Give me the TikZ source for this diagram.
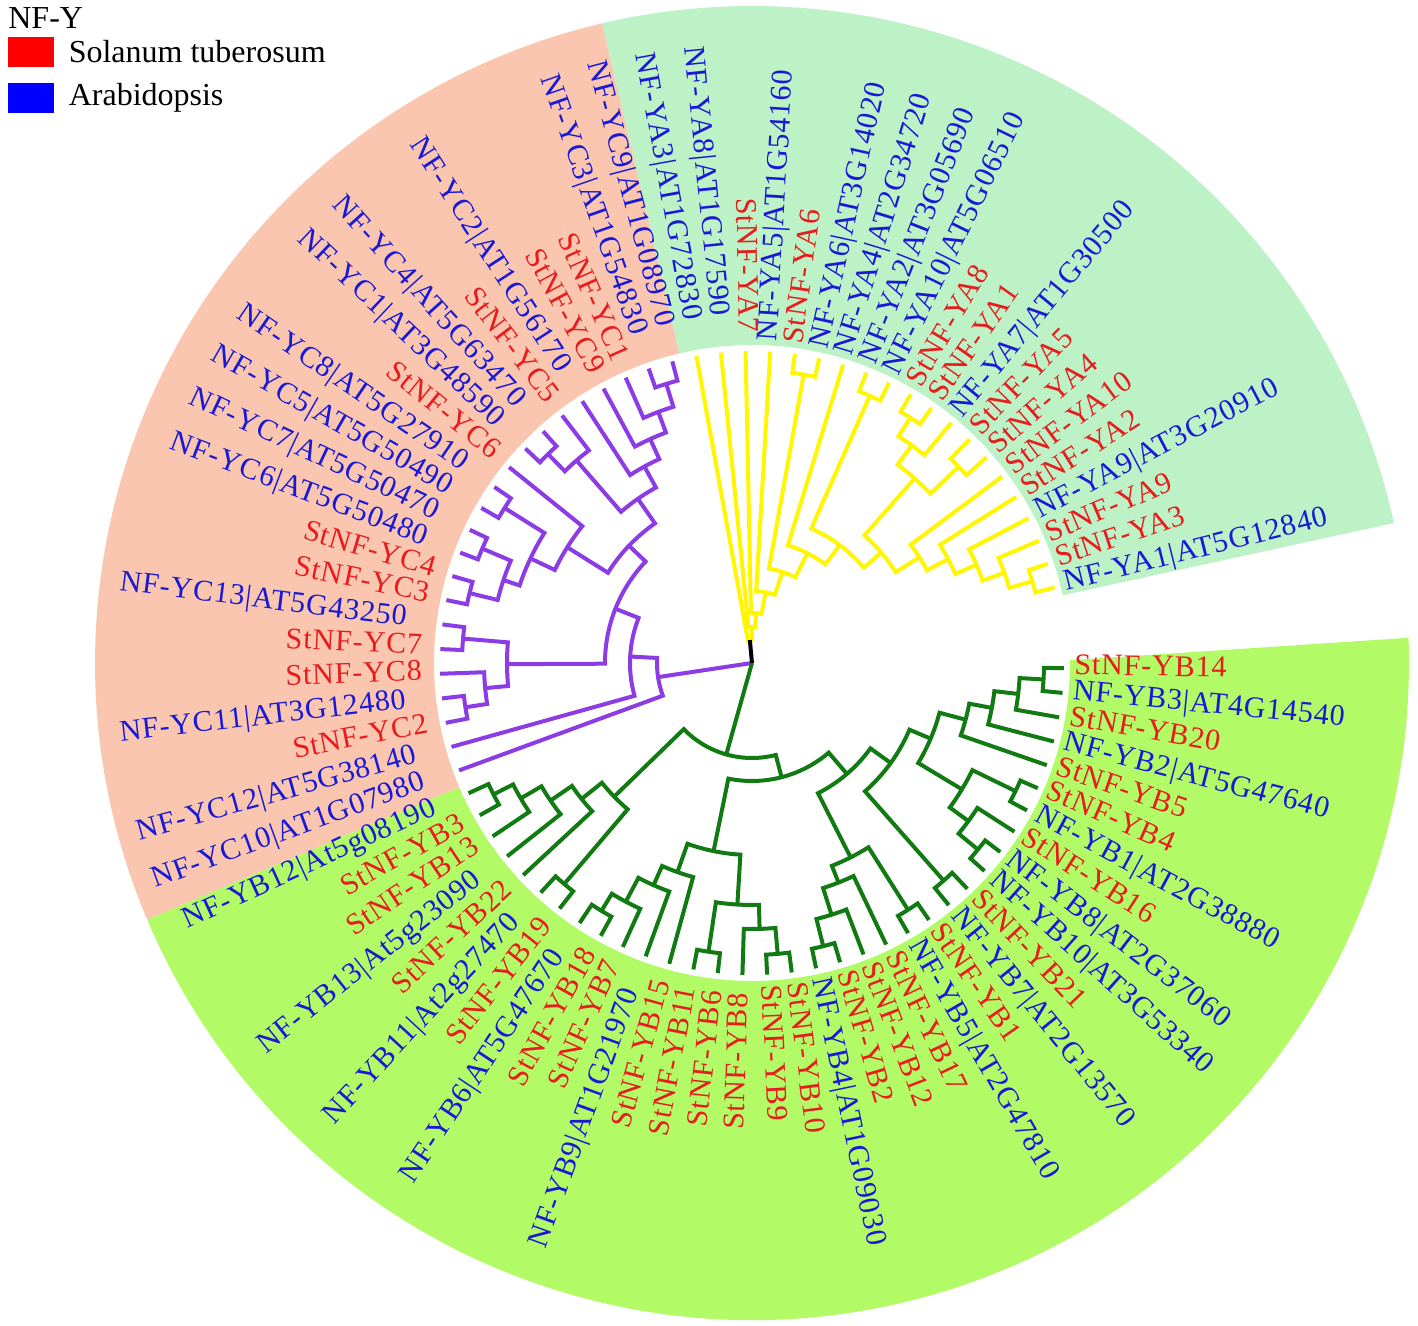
\documentclass[tikz,border=0pt]{standalone}
\usepackage{fontspec}
\setmainfont{Liberation Serif}
\newfontfamily\leaffont[LetterSpace=3]{Liberation Serif}
\usetikzlibrary{positioning}
\definecolor{stred}{RGB}{232,28,28}
\definecolor{atblue}{RGB}{24,24,214}
\definecolor{yaback}{RGB}{188,242,198}
\definecolor{ycback}{RGB}{250,198,176}
\definecolor{ybback}{RGB}{178,251,102}
\definecolor{yaline}{RGB}{255,246,0}
\definecolor{ycline}{RGB}{140,60,228}
\definecolor{ybline}{RGB}{18,122,18}
\def\stname{st}
\begin{document}
\begin{tikzpicture}[x=0.5pt, y=0.5pt,
  branch/.style = {line width=2pt},
  st/.style = {text=stred},
  ab/.style = {text=atblue},
  lbl/.style = {inner sep=0pt, text height=1.55ex, text depth=0.25ex,
    font=\leaffont\fontsize{15}{18}\selectfont},
  key/.style = {inner sep=0pt, font=\fontsize{16}{19}\selectfont},
  keybox/.style = {inner sep=0pt, minimum width=23pt, minimum height=15pt}]
\useasboundingbox (-752,-663) rectangle (666,663);

% shaded groups
\fill[yaback] (12.3:318) -- (12.3:657) arc[start angle=12.3, end angle=103.2, radius=657]
  -- (103.2:318) arc[start angle=103.2, end angle=12.3, radius=318] -- cycle;
\fill[ycback] (103.2:318) -- (103.2:657) arc[start angle=103.2, end angle=203, radius=657]
  -- (203:318) arc[start angle=203, end angle=103.2, radius=318] -- cycle;
\fill[ybback] (203:318) -- (203:657) arc[start angle=203, end angle=362.2, radius=657]
  -- (360.5:318) arc[start angle=360.5, end angle=203, radius=318] -- cycle;

% NF-YA clade
\foreach \a/\ra/\b/\rb/\r in {0/312/1/312/292, 2/312/0.5/292/268, 3/312/1.25/268/245,
    4/312/2.125/245/222, 5/312/3.063/222/198, 6/312/7/312/285, 9/312/10/312/292,
    8/312/9.5/292/270, 8.75/270/6.5/285/246, 7.625/246/4.031/198/170,
    11/312/12/312/292, 5.828/170/11.5/292/147, 13/312/8.664/147/123,
    14/312/15/312/293, 14.5/293/10.832/123/96, 16/312/12.666/96/72,
    17/312/14.333/72/50, 18/312/15.667/50/36, 19/312/16.833/36/23}{
  \pgfmathsetmacro\ta{14+4.54*\a}
  \pgfmathsetmacro\tb{14+4.54*\b}
  \draw[branch, yaline] (\ta:\ra) -- (\ta:\r) arc[start angle=\ta, end angle=\tb, radius=\r] -- (\tb:\rb);
}

% NF-YC clade
\foreach \a/\ra/\b/\rb/\r in {20/312/21/312/292, 22/312/20.5/292/268, 23/312/21.25/268/246,
    24/312/22.125/246/224, 26/312/27/312/292, 25/312/26.5/292/268,
    23.063/224/25.75/268/200, 29/312/30/312/292, 31/312/32/312/293,
    33/312/34/312/291, 31.5/293/33.5/291/262, 29.5/292/32.5/262/245,
    28/312/31/245/218, 24.406/200/29.5/218/170, 35/312/36/312/290,
    38/312/39/312/290, 37/312/38.5/290/268, 35.5/290/37.75/268/245,
    26.953/170/36.625/245/147, 31.789/147/40/312/122, 35.895/122/41/312/95}{
  \pgfmathsetmacro\ta{14+4.54*\a}
  \pgfmathsetmacro\tb{14+4.54*\b}
  \draw[branch, ycline] (\ta:\ra) -- (\ta:\r) arc[start angle=\ta, end angle=\tb, radius=\r] -- (\tb:\rb);
}

% NF-YB clade
\foreach \a/\ra/\b/\rb/\r in {42/312/43/312/290, 44/312/42.5/290/268, 45/312/43.25/268/244,
    46/312/44.125/244/218, 47/312/48/312/290, 45.063/218/47.5/290/192,
    49/312/50/312/290, 51/312/49.5/290/270, 52/312/50.25/270/243,
    53/312/51.125/243/222, 54/312/55/312/292, 57/312/58/312/292,
    56/312/57.5/292/266, 54.5/292/56.75/266/242, 52.063/222/55.625/242/192,
    59/312/60/312/292, 61/312/59.5/292/264, 60.25/264/62/312/236,
    63/312/64/312/292, 61.125/236/63.5/292/218, 65/312/66/312/290,
    67/312/68/312/293, 69/312/67.5/293/268, 70/312/71/312/293,
    70.5/293/68.25/268/245, 75/312/76/312/292, 74/312/75.5/292/268,
    73/312/74.75/268/244, 72/312/73.875/244/221, 69.375/245/72.938/221/194,
    65.5/290/71.156/194/171, 62.313/218/68.328/171/146,
    53.844/192/65.32/146/118, 46.281/192/59.582/118/95}{
  \pgfmathsetmacro\ta{14+4.54*\a}
  \pgfmathsetmacro\tb{14+4.54*\b}
  \draw[branch, ybline] (\ta:\ra) -- (\ta:\r) arc[start angle=\ta, end angle=\tb, radius=\r] -- (\tb:\rb);
}

% root
\coordinate (root) at (0,0);
\draw[branch, ycline] (root) -- ({14+4.54*38.447}:95);
\draw[branch, ybline] (root) -- ({14+4.54*52.93}:95);
\draw[branch, black] (root) -- ({14+4.54*17.917}:23);

% leaf labels (left half set a little further out, Arabidopsis names further still)
\foreach \i/\txt/\col in {0/NF-YA1|AT5G12840/ab, 1/StNF-YA3/st, 2/StNF-YA9/st,
    3/NF-YA9|AT3G20910/ab, 4/StNF-YA2/st, 5/StNF-YA10/st, 6/StNF-YA4/st, 7/StNF-YA5/st,
    8/NF-YA7|AT1G30500/ab, 9/StNF-YA1/st, 10/StNF-YA8/st, 11/NF-YA10|AT5G06510/ab,
    12/NF-YA2|AT3G05690/ab, 13/NF-YA4|AT2G34720/ab, 14/NF-YA6|AT3G14020/ab,
    15/StNF-YA6/st, 16/NF-YA5|AT1G54160/ab, 17/StNF-YA7/st, 18/NF-YA8|AT1G17590/ab,
    19/NF-YA3|AT1G72830/ab,
    20/NF-YC9|AT1G08970/ab, 21/NF-YC3|AT1G54830/ab, 22/StNF-YC1/st, 23/StNF-YC9/st,
    24/NF-YC2|AT1G56170/ab, 25/StNF-YC5/st, 26/NF-YC4|AT5G63470/ab,
    27/NF-YC1|AT3G48590/ab, 28/StNF-YC6/st, 29/NF-YC8|AT5G27910/ab,
    30/NF-YC5|AT5G50490/ab, 31/NF-YC7|AT5G50470/ab, 32/NF-YC6|AT5G50480/ab,
    33/StNF-YC4/st, 34/StNF-YC3/st, 35/NF-YC13|AT5G43250/ab, 36/StNF-YC7/st,
    37/StNF-YC8/st, 38/NF-YC11|AT3G12480/ab, 39/StNF-YC2/st,
    40/NF-YC12|AT5G38140/ab, 41/NF-YC10|AT1G07980/ab,
    42/NF-YB12|At5g08190/ab, 43/StNF-YB3/st, 44/StNF-YB13/st, 45/NF-YB13|At5g23090/ab,
    46/StNF-YB22/st, 47/NF-YB11|At2g27470/ab, 48/StNF-YB19/st, 49/NF-YB6|AT5G47670/ab,
    50/StNF-YB18/st, 51/StNF-YB7/st, 52/NF-YB9|AT1G21970/ab, 53/StNF-YB15/st,
    54/StNF-YB11/st, 55/StNF-YB6/st, 56/StNF-YB8/st, 57/StNF-YB9/st, 58/StNF-YB10/st,
    59/NF-YB4|AT1G09030/ab, 60/StNF-YB2/st, 61/StNF-YB12/st, 62/StNF-YB17/st,
    63/NF-YB5|AT2G47810/ab, 64/StNF-YB1/st, 65/NF-YB7|AT2G13570/ab, 66/StNF-YB21/st,
    67/NF-YB10|AT3G53340/ab, 68/NF-YB8|AT2G37060/ab, 69/StNF-YB16/st,
    70/NF-YB1|AT2G38880/ab, 71/StNF-YB4/st, 72/StNF-YB5/st, 73/NF-YB2|AT5G47640/ab,
    74/StNF-YB20/st, 75/NF-YB3|AT4G14540/ab, 76/StNF-YB14/st}{
  \pgfmathsetmacro\ang{14+4.54*\i}
  \pgfmathtruncatemacro\flip{(\ang>90)&&(\ang<270)}
  \ifnum\flip=1
    \pgfmathsetmacro\rot{\ang-180}
    \ifx\col\stname \def\gap{330}\else \def\gap{348}\fi
    \node[lbl, \col, anchor=east, rotate=\rot] (leaf\i) at (\ang:\gap) {\txt};
  \else
    \node[lbl, \col, anchor=west, rotate=\ang] (leaf\i) at (\ang:322) {\txt};
  \fi
}

% legend
\node[key, anchor=west] (title) at (-744,645) {NF-Y};
\node[keybox, fill=red] (kst) at (-721,611) {};
\node[keybox, fill=blue] (kab) at (-721,565) {};
\node[key, right=7pt of kst] (tst) {Solanum tuberosum};
\node[key, right=7pt of kab] (tab) {Arabidopsis};
\end{tikzpicture}
\end{document}
